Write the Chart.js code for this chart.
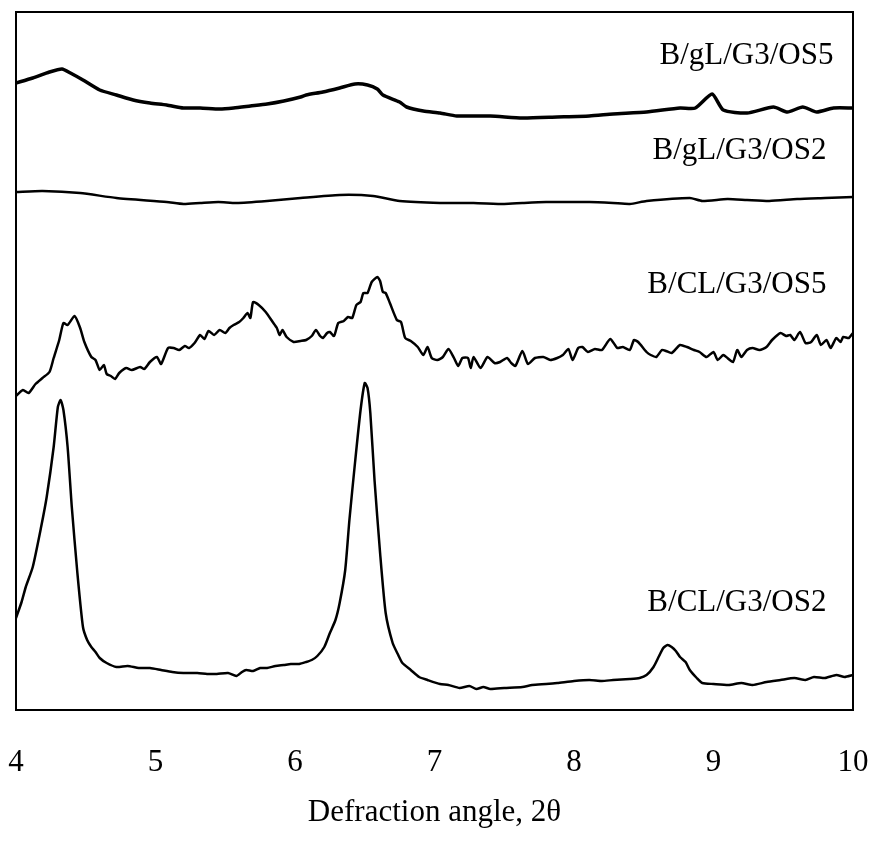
<!DOCTYPE html>
<html>
<head>
<meta charset="utf-8">
<script src="https://cdn.jsdelivr.net/npm/chart.js@4/dist/chart.umd.min.js"></script>
<style>
    html, body { margin: 0; padding: 0; background: #fff; }
    #wrap { width: 872px; height: 843px; }
</style>
</head>
<body>
<div id="wrap"><canvas id="grafico"></canvas></div>
<script>
// XRD traces, intensity in arbitrary units (stacked)
const gLOS5Angulo = [4.00, 4.12, 4.24, 4.33, 4.39, 4.48, 4.60, 4.72, 4.84, 4.96, 5.08, 5.20, 5.32, 5.46, 5.56, 5.68, 5.80, 5.92, 6.04, 6.08, 6.20, 6.32, 6.43, 6.52, 6.59, 6.63, 6.75, 6.80, 6.92, 7.04, 7.16, 7.40, 7.63, 7.88, 8.11, 8.28, 8.52, 8.76, 8.87, 8.99, 9.07, 9.24, 9.43, 9.53, 9.64, 9.74, 9.86, 10.00];
const gLOS5Intensidade = [627, 632, 638, 641, 637, 630, 620, 615, 610, 607, 605, 602, 602, 601, 602, 604, 606, 609, 613, 615, 618, 622, 626, 625, 621, 615, 608, 603, 599, 597, 594, 594, 592, 593, 594, 596, 598, 602, 602, 616, 600, 597, 603, 598, 603, 598, 602, 602];

const gLOS2Angulo = [4.00, 4.19, 4.46, 4.72, 5.08, 5.20, 5.32, 5.45, 5.58, 5.80, 6.04, 6.32, 6.56, 6.75, 7.04, 7.28, 7.50, 7.63, 7.80, 8.11, 8.28, 8.40, 8.52, 8.83, 8.92, 9.10, 9.24, 9.40, 9.60, 9.80, 10.00];
const gLOS2Intensidade = [518, 519, 517, 512, 508, 506, 507, 508, 507, 509, 512, 515, 514, 509, 507, 507, 506, 507, 508, 508, 507, 506, 509, 512, 509, 511, 510, 509, 511, 512, 513];

const cLOS5Angulo = [4.00, 4.05, 4.09, 4.14, 4.19, 4.24, 4.27, 4.31, 4.34, 4.37, 4.42, 4.46, 4.49, 4.54, 4.57, 4.60, 4.63, 4.65, 4.68, 4.71, 4.74, 4.79, 4.83, 4.89, 4.92, 4.96, 5.01, 5.04, 5.09, 5.13, 5.17, 5.21, 5.24, 5.28, 5.32, 5.35, 5.38, 5.42, 5.46, 5.50, 5.53, 5.56, 5.60, 5.63, 5.66, 5.68, 5.70, 5.74, 5.79, 5.84, 5.87, 5.89, 5.91, 5.94, 5.99, 6.04, 6.08, 6.12, 6.15, 6.18, 6.20, 6.23, 6.25, 6.28, 6.31, 6.35, 6.38, 6.41, 6.44, 6.47, 6.49, 6.52, 6.55, 6.59, 6.61, 6.63, 6.65, 6.68, 6.73, 6.76, 6.79, 6.83, 6.88, 6.92, 6.95, 6.98, 7.02, 7.06, 7.10, 7.14, 7.17, 7.20, 7.24, 7.26, 7.28, 7.33, 7.38, 7.43, 7.47, 7.52, 7.55, 7.58, 7.63, 7.67, 7.72, 7.78, 7.83, 7.88, 7.92, 7.96, 7.99, 8.03, 8.06, 8.10, 8.15, 8.20, 8.26, 8.31, 8.35, 8.40, 8.43, 8.46, 8.52, 8.55, 8.59, 8.63, 8.66, 8.70, 8.76, 8.81, 8.86, 8.90, 8.95, 9.00, 9.03, 9.07, 9.10, 9.14, 9.17, 9.20, 9.24, 9.28, 9.33, 9.38, 9.42, 9.48, 9.52, 9.55, 9.58, 9.62, 9.66, 9.70, 9.74, 9.77, 9.81, 9.84, 9.88, 9.91, 9.93, 9.97, 10.00];
const cLOS5Intensidade = [314, 320, 317, 326, 332, 338, 352, 370, 387, 385, 394, 382, 368, 353, 350, 340, 345, 336, 334, 331, 337, 342, 340, 343, 341, 348, 353, 346, 362, 362, 360, 364, 362, 367, 375, 371, 379, 375, 380, 377, 382, 385, 388, 392, 397, 392, 408, 405, 398, 388, 382, 375, 380, 373, 368, 369, 370, 374, 380, 374, 372, 377, 378, 374, 387, 389, 393, 392, 405, 408, 417, 417, 428, 433, 429, 418, 417, 407, 390, 388, 372, 369, 363, 355, 363, 352, 350, 353, 361, 352, 344, 352, 352, 342, 353, 342, 353, 347, 348, 352, 347, 344, 359, 346, 352, 353, 350, 352, 355, 361, 350, 362, 363, 358, 361, 360, 371, 362, 363, 360, 370, 368, 358, 355, 353, 360, 359, 357, 365, 363, 360, 358, 353, 358, 350, 355, 352, 348, 360, 353, 360, 362, 360, 363, 370, 377, 374, 375, 370, 378, 367, 368, 375, 365, 370, 362, 372, 368, 373, 372, 377];

const cLOS2Angulo = [4.00, 4.04, 4.07, 4.12, 4.18, 4.22, 4.27, 4.30, 4.32, 4.34, 4.37, 4.40, 4.44, 4.48, 4.51, 4.54, 4.57, 4.60, 4.65, 4.72, 4.80, 4.88, 4.96, 5.04, 5.12, 5.20, 5.30, 5.37, 5.44, 5.52, 5.58, 5.62, 5.65, 5.70, 5.75, 5.80, 5.86, 5.92, 5.97, 6.03, 6.08, 6.12, 6.16, 6.21, 6.25, 6.29, 6.32, 6.36, 6.39, 6.43, 6.47, 6.50, 6.52, 6.54, 6.57, 6.61, 6.65, 6.70, 6.74, 6.77, 6.83, 6.89, 6.95, 7.04, 7.10, 7.18, 7.25, 7.30, 7.35, 7.40, 7.50, 7.63, 7.70, 7.80, 7.88, 8.00, 8.11, 8.20, 8.28, 8.40, 8.47, 8.52, 8.57, 8.61, 8.64, 8.67, 8.70, 8.73, 8.76, 8.80, 8.83, 8.88, 8.92, 9.00, 9.11, 9.20, 9.28, 9.38, 9.48, 9.58, 9.66, 9.72, 9.80, 9.88, 9.94, 10.00];
const cLOS2Intensidade = [92, 108, 123, 143, 183, 213, 263, 303, 310, 300, 263, 203, 137, 83, 70, 63, 58, 52, 47, 43, 44, 42, 42, 40, 38, 37, 37, 36, 36, 37, 34, 38, 40, 39, 42, 42, 44, 45, 46, 46, 48, 50, 54, 63, 77, 90, 107, 140, 190, 247, 300, 327, 322, 297, 230, 157, 97, 67, 55, 47, 40, 33, 30, 26, 25, 22, 24, 21, 23, 21, 22, 23, 25, 26, 27, 29, 30, 29, 30, 31, 32, 35, 43, 54, 62, 65, 63, 59, 53, 48, 40, 32, 27, 26, 25, 27, 25, 28, 30, 32, 30, 33, 32, 35, 33, 35];

const amostras = ['B/gL/G3/OS5', 'B/gL/G3/OS2', 'B/CL/G3/OS5', 'B/CL/G3/OS2'];
const tickAngulos = [4, 5, 6, 7, 8, 9, 10];

// onde cada nome de amostra fica (canto direito do texto)
const posRotulos = [
    {x: 9.86, y: 654},
    {x: 9.81, y: 559},
    {x: 9.81, y: 425},
    {x: 9.81, y: 107}
];

const fonte = "'Liberation Serif', 'Times New Roman', serif";

function pontos(angulos, intensidades){
    return angulos.map((a, i) => ({x: a, y: intensidades[i]}));
}

const moldura = {
    id: 'moldura',
    afterDraw(chart){
        const {ctx, chartArea} = chart;
        ctx.save();
        ctx.strokeStyle = '#000';
        ctx.lineWidth = 2;
        ctx.strokeRect(chartArea.left, chartArea.top, chartArea.right - chartArea.left, chartArea.bottom - chartArea.top);
        ctx.restore();
    }
};

const rotulos = {
    id: 'rotulos',
    afterDatasetsDraw(chart){
        const {ctx, scales} = chart;
        ctx.save();
        ctx.fillStyle = '#000';
        ctx.font = '31px ' + fonte;
        ctx.textAlign = 'right';
        ctx.textBaseline = 'middle';
        amostras.forEach((nome, i) => {
            ctx.fillText(nome, scales.x.getPixelForValue(posRotulos[i].x), scales.y.getPixelForValue(posRotulos[i].y));
        });
        ctx.restore();
    }
};

function setupGrafico(chartId){
    const ctx = document.getElementById(chartId).getContext('2d');
    const series = [
        {d: pontos(gLOS5Angulo, gLOS5Intensidade), w: 3.5},
        {d: pontos(gLOS2Angulo, gLOS2Intensidade), w: 2.5},
        {d: pontos(cLOS5Angulo, cLOS5Intensidade), w: 2.5},
        {d: pontos(cLOS2Angulo, cLOS2Intensidade), w: 2.5}
    ];
    const data = {
        datasets: series.map((s, i) => ({
            label: amostras[i],
            data: s.d,
            borderColor: '#000',
            borderWidth: s.w,
            pointRadius: 0,
            tension: 0.2,
            fill: false
        }))
    };
    const options = {
        responsive: true,
        maintainAspectRatio: false,
        animation: false,
        layout: {padding: {left: 16, right: 19, top: 12, bottom: 0}},
        plugins: {legend: {display: false}, tooltip: {enabled: false}},
        scales: {
            x: {
                type: 'linear',
                min: 4,
                max: 10,
                afterBuildTicks: scale => { scale.ticks = tickAngulos.map(v => ({value: v})); },
                afterFit: scale => {
                    scale.height = 133;
                    // os rótulos 4 e 10 podem passar da borda
                    scale.paddingLeft = 0;
                    scale.paddingRight = 0;
                },
                grid: {display: false, drawTicks: false},
                border: {display: false},
                ticks: {color: '#000', padding: 34, font: {family: fonte, size: 31}},
                title: {
                    display: true,
                    text: 'Defraction angle, 2θ',
                    color: '#000',
                    font: {family: fonte, size: 31},
                    padding: {top: 0, bottom: 12}
                }
            },
            y: {
                type: 'linear',
                min: 0,
                max: 698,
                display: false
            }
        }
    };
    return new Chart(ctx, {type: 'line', data: data, options: options, plugins: [moldura, rotulos]});
}

setupGrafico('grafico');
</script>
</body>
</html>
